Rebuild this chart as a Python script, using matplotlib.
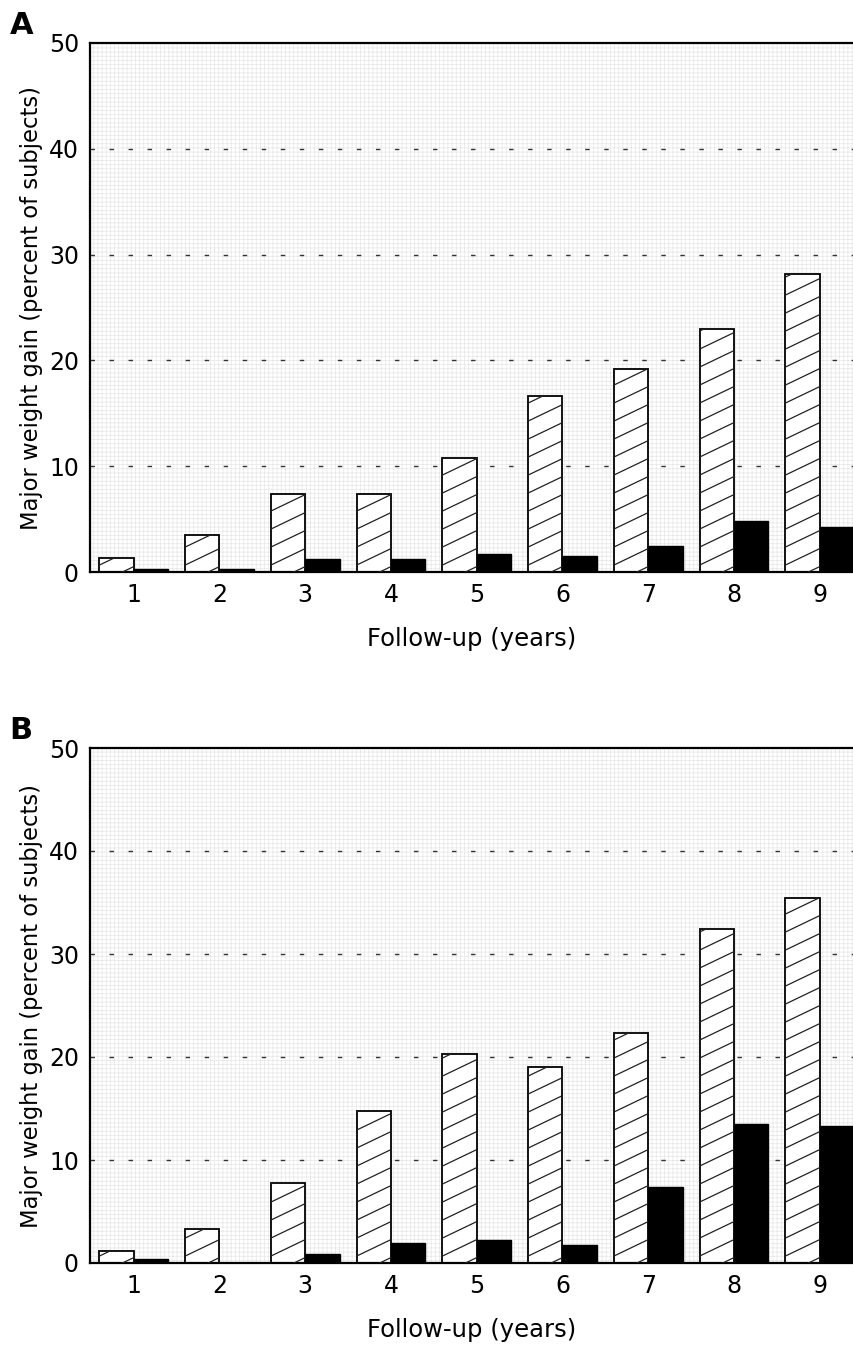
import matplotlib
matplotlib.use("Agg")
import matplotlib.pyplot as plt
from matplotlib.patches import Rectangle
import numpy as np

plt.rcParams["font.family"] = ["DejaVu Sans"]
plt.rcParams["hatch.linewidth"] = 0.5

years = [1, 2, 3, 4, 5, 6, 7, 8, 9]
# panel A
a_hatched = [1.3, 3.5, 7.4, 7.4, 10.8, 16.6, 19.2, 23.0, 28.2]
a_black = [0.3, 0.3, 1.2, 1.2, 1.7, 1.5, 2.5, 4.8, 4.3]
# panel B
b_hatched = [1.2, 3.3, 7.8, 14.8, 20.3, 19.0, 22.3, 32.4, 35.4]
b_black = [0.4, 0.0, 0.9, 1.9, 2.2, 1.7, 7.4, 13.5, 13.3]

W, H = 854, 1345
fig = plt.figure(figsize=(W / 100, H / 100), dpi=100)

BAR_W = 0.4
XLIM = (0.49, 9.4)
YLIM = (0, 50)


def hatch_bar(ax, bar, sx, sy):
    """Draw shallow diagonal hatch lines clipped to a bar."""
    x0 = bar.get_x()
    w = bar.get_width()
    h = bar.get_height()
    slope = 0.48 * sx / sy
    step = 18.0 / sy
    c = -slope * w + 0.3 * step
    while c < h:
        xs = np.array([x0, x0 + w])
        ys = c + slope * (xs - x0)
        ln, = ax.plot(xs, ys, color="#222222", lw=0.9, zorder=3)
        ln.set_clip_path(bar)
        c += step


def panel(rect, hatched, black, letter):
    ax = fig.add_axes(rect)
    ax.set_xlim(*XLIM)
    ax.set_ylim(*YLIM)
    sx = W * rect[2] / (XLIM[1] - XLIM[0])
    sy = H * rect[3] / (YLIM[1] - YLIM[0])

    # dotted background
    bg = Rectangle((0, 0), 1, 1, transform=ax.transAxes, facecolor="white",
                   edgecolor="#e6e6e6", hatch="++++", lw=0, zorder=0)
    ax.add_patch(bg)

    for y in [10, 20, 30, 40]:
        ax.axhline(y, color="#333333", lw=1.0, ls=(0, (3.2, 10.5)), zorder=1)

    x = np.array(years)
    hb = ax.bar(x - BAR_W / 2, hatched, BAR_W, color="white",
                edgecolor="black", lw=1.3, zorder=2)
    ax.bar(x + BAR_W / 2, black, BAR_W, color="black",
           edgecolor="black", lw=1.0, zorder=2)
    for bar in hb:
        hatch_bar(ax, bar, sx, sy)

    ax.set_xticks(years)
    ax.set_yticks([0, 10, 20, 30, 40, 50])
    ax.tick_params(length=0, labelsize=17, pad=8)
    ax.spines["right"].set_visible(False)
    for s in ["left", "top", "bottom"]:
        ax.spines[s].set_linewidth(1.6)
    ax.set_xlabel("Follow-up (years)", fontsize=17.5, labelpad=14)
    ax.set_ylabel("Major weight gain (percent of subjects)", fontsize=16.3,
                  labelpad=4)
    fig.text(0.011, rect[1] + rect[3] + 0.0025, letter, fontsize=22,
             fontweight="bold", va="bottom")
    return ax


panel([90 / W, 1 - 572 / H, 1 - 90 / W, (572 - 43) / H], a_hatched, a_black, "A")
panel([90 / W, 1 - 1263 / H, 1 - 90 / W, (1263 - 748) / H], b_hatched, b_black, "B")

fig.savefig("out.png", dpi=100)
